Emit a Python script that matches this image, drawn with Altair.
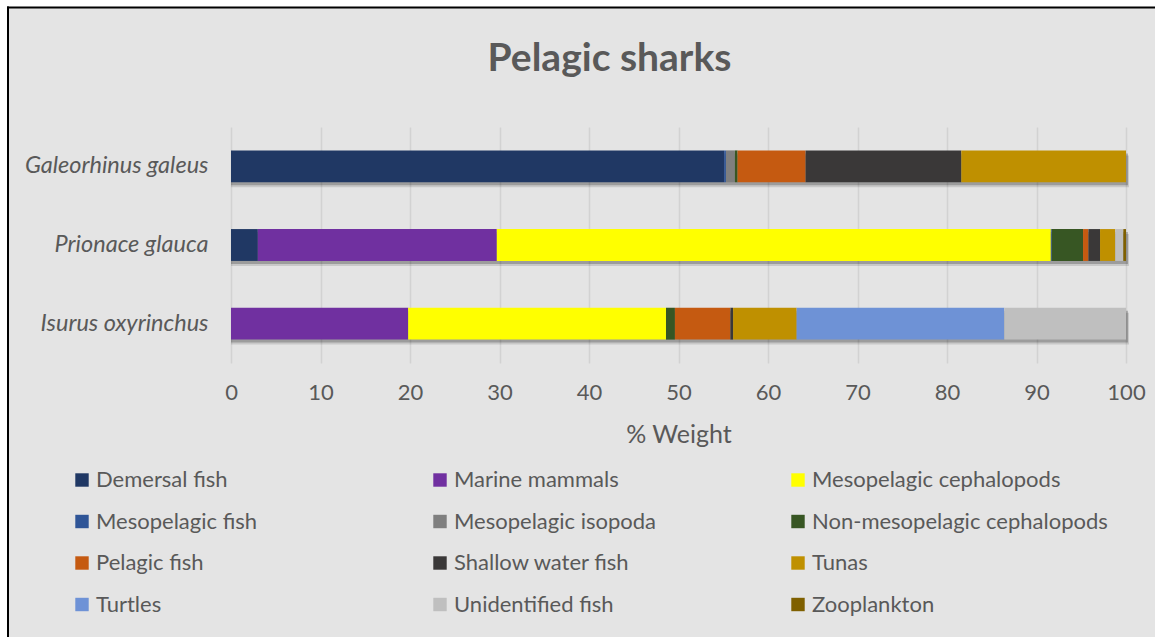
import altair as alt
import pandas as pd

# Prey categories (stacking and legend order) and their fill colours
categories = [
    "Demersal fish", "Marine mammals", "Mesopelagic cephalopods",
    "Mesopelagic fish", "Mesopelagic isopoda", "Non-mesopelagic cephalopods",
    "Pelagic fish", "Shallow water fish", "Tunas", "Turtles",
    "Unidentified fish", "Zooplankton",
]
colors = [
    "#203864", "#7030A0", "#FFFF00", "#2F5597", "#7F7F7F", "#375623",
    "#C55A11", "#3A3838", "#BF9000", "#6E92D6", "#BFBFBF", "#7F6000",
]

# Species, top to bottom
species = ["Galeorhinus galeus", "Prionace glauca", "Isurus oxyrinchus"]

# % weight of each prey category, aligned with `categories`
galeorhinus = [55.1, 0, 0, 0.2, 1.0, 0.3, 7.6, 17.4, 18.4, 0, 0, 0]
prionace = [3.0, 26.7, 61.9, 0.1, 0, 3.5, 0.6, 1.3, 1.7, 0, 0.9, 0.3]
isurus = [0, 19.8, 28.8, 0, 0, 1.0, 6.2, 0.3, 7.1, 23.2, 13.6, 0]

x_ticks = [0, 10, 20, 30, 40, 50, 60, 70, 80, 90, 100]

rows = []
for sp, vals in zip(species, [galeorhinus, prionace, isurus]):
    for i, (cat, v) in enumerate(zip(categories, vals)):
        if v > 0:
            rows.append({"species": sp, "prey": cat, "idx": i, "weight": v})
df = pd.DataFrame(rows)

TEXT = "#595959"
FONT = "Lato"

x_scale = alt.Scale(domain=[0, 100], nice=False)

y_enc = alt.Y(
    "species:N",
    sort=species,
    title=None,
    scale=alt.Scale(paddingInner=0.595, paddingOuter=0.2975),
    axis=alt.Axis(
        domain=False, ticks=False, grid=False,
        labelFont=FONT, labelFontSize=23.5, labelFontStyle="italic",
        labelColor=TEXT, labelPadding=23, labelLimit=300,
    ),
)

base = alt.Chart(df)

# soft drop shadow under each bar
shadow1 = base.mark_bar(color="black", opacity=0.12, xOffset=3, yOffset=5).encode(
    x=alt.X("sum(weight):Q", scale=x_scale), y=y_enc,
)
shadow2 = base.mark_bar(color="black", opacity=0.22, xOffset=2, yOffset=3).encode(
    x=alt.X("sum(weight):Q", scale=x_scale), y=y_enc,
)

bars = base.mark_bar().encode(
    x=alt.X(
        "weight:Q",
        stack="zero",
        title="% Weight",
        scale=x_scale,
        axis=alt.Axis(
            values=x_ticks, domain=False, ticks=False, labelFlush=False,
            grid=True, gridColor="#D2D2D2", gridWidth=1.5,
            labelFont=FONT, labelFontSize=22, labelColor=TEXT, labelPadding=19,
            titleFont=FONT, titleFontSize=25, titleFontWeight="normal",
            titleColor=TEXT, titlePadding=19,
        ),
    ),
    y=y_enc,
    color=alt.Color(
        "prey:N",
        scale=alt.Scale(domain=categories, range=colors),
        legend=alt.Legend(
            title=None, orient="none", legendX=-160, legendY=342,
            direction="horizontal", columns=3, gridAlign="all",
            symbolType="square", symbolSize=180, symbolStrokeWidth=0,
            symbolOpacity=1,
            labelFont=FONT, labelFontSize=22, labelColor=TEXT,
            labelOffset=3, labelLimit=400,
            rowPadding=19.5, columnPadding=37,
        ),
    ),
    order=alt.Order("idx:Q", sort="ascending"),
)

# white margin and black frame along the top and left edges
one = alt.Data(values=[{}])
margin_left = alt.Chart(one).mark_rect(color="white").encode(
    x=alt.value(-231), x2=alt.value(-224), y=alt.value(-127), y2=alt.value(510)
)
margin_top = alt.Chart(one).mark_rect(color="white").encode(
    x=alt.value(-231), x2=alt.value(924), y=alt.value(-127), y2=alt.value(-120)
)
frame_left = alt.Chart(one).mark_rule(color="black", strokeWidth=2).encode(
    x=alt.value(-223), y=alt.value(-120.5), y2=alt.value(510)
)
frame_top = alt.Chart(one).mark_rule(color="black", strokeWidth=2).encode(
    x=alt.value(-224), x2=alt.value(924), y=alt.value(-119.5)
)

chart = (
    alt.layer(shadow1, shadow2, bars, margin_left, margin_top, frame_left, frame_top)
    .properties(
        width=895,
        height=236,
        padding={"left": 231, "top": 127, "right": 29, "bottom": 274},
        autosize=alt.AutoSizeParams(type="none"),
        title=alt.TitleParams(
            "Pelagic sharks", font=FONT, fontSize=39, fontWeight="bold",
            color=TEXT, anchor="middle", dx=-69, offset=-79,
        ),
    )
    .configure(background="#E4E4E4")
    .configure_view(strokeWidth=0)
)

chart.save("out.html", embed_options={"renderer": "svg", "actions": False})
